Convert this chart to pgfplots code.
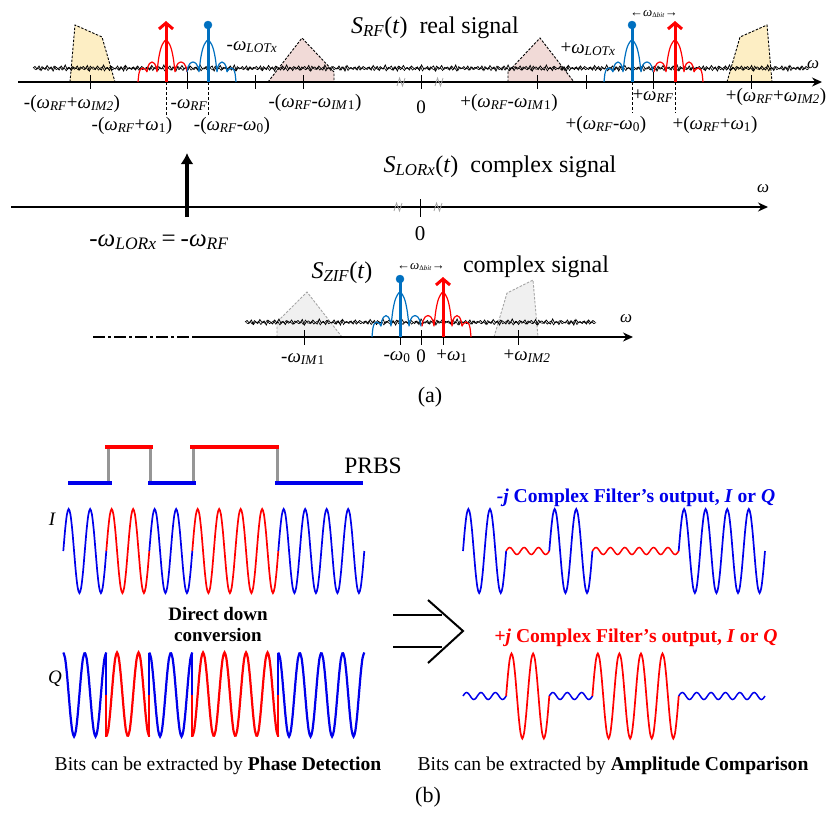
\documentclass[border=0pt]{standalone}
\usepackage{fontspec}
\setmainfont{Liberation Serif}
\usepackage{pgfplots}
\pgfplotsset{compat=1.18}
\usepackage{pgfplotstable}
\usetikzlibrary{arrows.meta}
\definecolor{rred}{RGB}{255,0,0}
\definecolor{sblue}{RGB}{0,112,192}
\definecolor{wblue}{RGB}{0,0,235}
\definecolor{yel}{RGB}{253,238,196}
\definecolor{pinkf}{RGB}{241,218,215}
\definecolor{grayf}{RGB}{240,240,240}
\definecolor{grayd}{RGB}{165,165,165}
\definecolor{prbsg}{RGB}{150,150,150}
\newcommand{\fs}[1]{\fontsize{#1}{#1}\selectfont}
\newcommand{\w}{\textit{ω}}
\newcommand{\sub}[1]{\textsubscript{\textit{#1}}}
\newcommand{\nsub}[1]{\textsubscript{#1}}

% one period of a sinusoid (fraction of period, sin, cos)
\pgfplotstableread{
t s c
0 0 1
0.083333 0.5 0.866025
0.166667 0.866025 0.5
0.25 1 0
0.333333 0.866025 -0.5
0.416667 0.5 -0.866025
0.5 0 -1
0.583333 -0.5 -0.866025
0.666667 -0.866025 -0.5
0.75 -1 0
0.833333 -0.866025 0.5
0.916667 -0.5 0.866025
1 0 1
}\sinT

% sinc-like lobes relative to the carrier (dx, height above axis)
\pgfplotstableread{
dx h
-28 0
-27.1 8.15
-25.75 12.3
-23.5 14
-21.25 13
-19.9 11.75
-19 10
nan nan
-19 10
-18 15.5
-16.5 18.5
-14 20
-11.5 18.5
-10 15.5
-9 10
nan nan
-9 10
-7.2 24.4
-4.5 35.6
0 42
4.5 35.6
7.2 24.4
9 10
nan nan
9 10
10.2 15.5
12 18.5
15 20
18 18.5
19.8 15.5
21 10
}\sincT

% noise block
\pgfplotstableread{
x y
0 0
2 1.5
4 -1
6 2
8 -2.5
10 0.5
12 -1.5
14 2.5
16 -0.5
18 1
20 -3
22 1.5
24 0
26 -2
28 2
30 -1
32 3
34 -1.5
36 0.5
38 -2.5
40 1
42 -0.5
44 2
46 -2
48 0
50 1.5
52 -1
54 2.5
56 -3
58 0.5
60 1
62 -1.5
64 2
66 -0.5
68 -2
70 3
72 -1
74 0.5
76 -2.5
78 1.5
80 0
82 -1
84 2
86 -2
88 1
90 -3
92 2.5
94 -0.5
96 0.5
98 -1.5
100 1
102 -2
104 2
106 -1
108 1.5
110 0
}\noiseT

% #1 style, #2 period list, #3 x0, #4 period, #5 centre, #6 amplitude, #7 column
\newcommand{\wave}[7]{%
  \pgfplotsinvokeforeach{#2}{\addplot[line width=1.7pt, smooth, #1] table[x expr=#3+#4*(##1+\thisrow{t}), y expr=#5-(#6)*\thisrow{#7}] \sinT;}}

\tikzset{brd/.style={dash pattern=on 2.5pt off 1.5pt, line width=0.9pt}}

\begin{document}
\begin{tikzpicture}
\begin{axis}[scale only axis, width=827pt, height=812pt,
  xmin=0, xmax=827, ymin=0, ymax=812, y dir=reverse,
  hide axis, clip=false, unbounded coords=jump]

% ---------- (a) top: S_RF ----------
\addplot[fill=yel, draw=black, brd] coordinates {(70,82)(75,25)(102,37)(115,82)} -- cycle;
\addplot[fill=yel, draw=black, brd] coordinates {(727,82)(740,37)(767,25)(772,82)} -- cycle;
\addplot[fill=pinkf, draw=black, brd] coordinates {(268,82)(302,38)(334,72)(334,82)} -- cycle;
\addplot[fill=pinkf, draw=black, brd] coordinates {(508,82)(508,72)(540,38)(574,82)} -- cycle;
% ZIF images
\addplot[fill=grayf, draw=grayd, brd] coordinates {(277,337)(277,322)(307,292)(342,337)} -- cycle;
\addplot[fill=grayf, draw=grayd, brd] coordinates {(494,337)(507,293)(533,280)(538,337)} -- cycle;

% noise (two interleaved passes)
\pgfplotsinvokeforeach{0,2,4,6}{\addplot[black, line width=0.75pt] table[x expr=33+1.00649*(\thisrow{x}+110*#1), y expr=68-\thisrow{y}] \noiseT;}
\pgfplotsinvokeforeach{1,3,5}{\addplot[black, line width=0.75pt] table[x expr=33+1.00649*(\thisrow{x}+110*#1), y expr=68+\thisrow{y}] \noiseT;}
\pgfplotsinvokeforeach{0,2,4,6}{\addplot[black, line width=0.6pt] table[x expr=34+1.00649*(\thisrow{x}+110*#1), y expr=68.5+0.8*\thisrow{y}] \noiseT;}
\pgfplotsinvokeforeach{1,3,5}{\addplot[black, line width=0.6pt] table[x expr=34+1.00649*(\thisrow{x}+110*#1), y expr=68.5-0.8*\thisrow{y}] \noiseT;}
\pgfplotsinvokeforeach{0,2}{\addplot[black, line width=0.75pt] table[x expr=245+1.0606*(\thisrow{x}+110*#1), y expr=322-\thisrow{y}] \noiseT;}
\pgfplotsinvokeforeach{1}{\addplot[black, line width=0.75pt] table[x expr=245+1.0606*(\thisrow{x}+110*#1), y expr=322+\thisrow{y}] \noiseT;}
\pgfplotsinvokeforeach{0,2}{\addplot[black, line width=0.6pt] table[x expr=246+1.0606*(\thisrow{x}+110*#1), y expr=322.5+0.8*\thisrow{y}] \noiseT;}
\pgfplotsinvokeforeach{1}{\addplot[black, line width=0.6pt] table[x expr=246+1.0606*(\thisrow{x}+110*#1), y expr=322.5-0.8*\thisrow{y}] \noiseT;}

% axis lines
\addplot[black, line width=1.3pt, -{Stealth[length=10pt,width=9pt]}] coordinates {(18,82)(822,82)};
\addplot[black, line width=1.3pt, -{Stealth[length=10pt,width=9pt]}] coordinates {(11,207)(768,207)};
\addplot[black, line width=1.3pt, dash pattern=on 12pt off 3pt on 3pt off 3pt] coordinates {(93,337)(193,337)};
\addplot[black, line width=1.3pt, -{Stealth[length=10pt,width=9pt]}] coordinates {(193,337)(633,337)};

% break marks
\addplot[grayd, line width=0.8pt] coordinates {(397,86)(399.5,78)(402.5,86)(405,78) (nan,nan) (435,86)(437.5,78)(440.5,86)(443,78)
  (nan,nan) (394,211)(396.5,203)(399.5,211)(402,203) (nan,nan) (434,211)(436.5,203)(439.5,211)(442,203)};

% ticks
\addplot[black, line width=1pt] coordinates {(90,75)(90,89) (nan,nan) (187,72)(187,89) (nan,nan) (255,75)(255,89) (nan,nan) (303,75)(303,89)
  (nan,nan) (421,75)(421,89) (nan,nan) (537,75)(537,89) (nan,nan) (586,75)(586,89) (nan,nan) (653,72)(653,89) (nan,nan) (751,75)(751,89)
  (nan,nan) (187,207)(187,217) (nan,nan) (420,199)(420,217)
  (nan,nan) (304,330)(304,345) (nan,nan) (400,330)(400,345) (nan,nan) (421,330)(421,345) (nan,nan) (443,330)(443,345) (nan,nan) (518,330)(518,345)};
\addplot[black, line width=0.9pt, dash pattern=on 3pt off 2pt] coordinates {(166,82)(166,115) (nan,nan) (208,82)(208,115) (nan,nan) (632,82)(632,113) (nan,nan) (675,82)(675,113)};

% sinc lobes
\addplot[rred, line width=1.2pt, smooth] table[x expr=166+\thisrow{dx}, y expr=82-\thisrow{h}] \sincT;
\addplot[sblue, line width=1.2pt, smooth] table[x expr=208-\thisrow{dx}, y expr=82-\thisrow{h}] \sincT;
\addplot[sblue, line width=1.2pt, smooth] table[x expr=632+\thisrow{dx}, y expr=82-\thisrow{h}] \sincT;
\addplot[rred, line width=1.2pt, smooth] table[x expr=675-\thisrow{dx}, y expr=82-\thisrow{h}] \sincT;
\addplot[sblue, line width=1.2pt, smooth] table[x expr=400+\thisrow{dx}, y expr=337-1.07*\thisrow{h}] \sincT;
\addplot[rred, line width=1.2pt, smooth] table[x expr=443-\thisrow{dx}, y expr=337-1.07*\thisrow{h}] \sincT;

% carriers
\addplot[rred, line width=3pt, -{Straight Barb[length=6pt,width=14pt]}] coordinates {(166,82)(166,21)};
\addplot[rred, line width=3pt, -{Straight Barb[length=6pt,width=14pt]}] coordinates {(675,82)(675,21)};
\addplot[rred, line width=3pt, -{Straight Barb[length=6pt,width=14pt]}] coordinates {(443,337)(443,277)};
\addplot[sblue, line width=3pt] coordinates {(208,82)(208,25) (nan,nan) (632,82)(632,25) (nan,nan) (400,337)(400,279)};
\addplot[sblue, only marks, mark=*, mark size=4pt, mark options={fill=sblue, draw=sblue}] coordinates {(208,25)(632,25)(400,279)};
\addplot[black, line width=3.5pt, -{Latex[length=11pt,width=13pt]}] coordinates {(187,217)(187,153)};

% labels (a)
\begin{scope}[every node/.style={font=\fs{19}, anchor=base, inner sep=0pt}]
\node at (axis cs:72,108) {-(\w\sub{RF}+\w\sub{IM2})};
\node at (axis cs:132,130) {-(\w\sub{RF}+\w\nsub{1})};
\node at (axis cs:189,108) {-\w\sub{RF}};
\node at (axis cs:232,130) {-(\w\sub{RF}-\w\nsub{0})};
\node at (axis cs:252,50) {-\w\sub{LOTx}};
\node at (axis cs:315,107) {-(\w\sub{RF}-\w\sub{IM}\nsub{1})};
\node at (axis cs:421,113) {0};
\node at (axis cs:509,107) {+(\w\sub{RF}-\w\sub{IM}\nsub{1})};
\node at (axis cs:588,53) {+\w\sub{LOTx}};
\node at (axis cs:606,129) {+(\w\sub{RF}-\w\nsub{0})};
\node at (axis cs:653,100) {+\w\sub{RF}};
\node at (axis cs:715,129) {+(\w\sub{RF}+\w\nsub{1})};
\node at (axis cs:776,101) {+(\w\sub{RF}+\w\sub{IM2})};
\node[font=\fs{24}] at (axis cs:435,33) {\textit{S}\sub{RF}(\textit{t})\ \ real signal};
\node[font=\fs{24}] at (axis cs:500,172) {\textit{S}\sub{LORx}(\textit{t})\ \ complex signal};
\node[font=\fs{25}] at (axis cs:159,246) {-\w\sub{LORx}\hspace{5pt}=\hspace{5pt}-\w\sub{RF}};
\node[font=\fs{21}] at (axis cs:420,240) {0};
\node[font=\fs{24}] at (axis cs:342,278) {\textit{S}\sub{ZIF}(\textit{t})};
\node[font=\fs{24}] at (axis cs:536,272) {complex signal};
\node at (axis cs:303,362) {-\w\sub{IM}\nsub{1}};
\node at (axis cs:397,360) {-\w\nsub{0}};
\node at (axis cs:421,362) {0};
\node at (axis cs:452,360) {+\w\nsub{1}};
\node at (axis cs:527,360) {+\w\sub{IM2}};
\node[font=\fs{17}] at (axis cs:813,68) {\w};
\node[font=\fs{17}] at (axis cs:763,192) {\w};
\node[font=\fs{17}] at (axis cs:626,322) {\w};
\node[font=\fs{13}] at (axis cs:654,16) {←\w\textsubscript{\fs{7}Δ\textit{bit}}→};
\node[font=\fs{13}] at (axis cs:421,269) {←\w\textsubscript{\fs{7}Δ\textit{bit}}→};
\node[font=\fs{22}] at (axis cs:430,402) {(a)};
\end{scope}

% ---------- (b) ----------
\addplot[prbsg, line width=3pt] coordinates {(108,447)(108,483) (nan,nan) (150,447)(150,483) (nan,nan) (193,447)(193,483) (nan,nan) (277,447)(277,483)};
\addplot[wblue, line width=4pt] coordinates {(68,483)(112,483) (nan,nan) (148,483)(196,483) (nan,nan) (275,483)(363,483)};
\addplot[rred, line width=4pt] coordinates {(105,447)(153,447) (nan,nan) (190,447)(279,447)};

% I
\wave{wblue}{0,1}{63.3}{21.5}{551}{42}{s}
\wave{rred}{2,3}{63.3}{21.5}{551}{42}{s}
\wave{wblue}{4,5}{63.3}{21.5}{551}{42}{s}
\wave{rred}{6,...,9}{63.3}{21.5}{551}{42}{s}
\wave{wblue}{10,...,13}{63.3}{21.5}{551}{42}{s}
% Q
\wave{wblue,line width=2.2pt}{0,1}{63.3}{21.5}{694.5}{42}{c}
\wave{rred,line width=2.2pt}{2,3}{63.3}{21.5}{694.5}{-42}{c}
\wave{wblue,line width=2.2pt}{4,5}{63.3}{21.5}{694.5}{42}{c}
\wave{rred,line width=2.2pt}{6,...,9}{63.3}{21.5}{694.5}{-42}{c}
\wave{wblue,line width=2.2pt}{10,...,13}{63.3}{21.5}{694.5}{42}{c}
\addplot[wblue, line width=2.2pt] coordinates {(106.3,652.5)(106.3,694.5) (nan,nan) (149.3,694.5)(149.3,652.5) (nan,nan) (192.3,652.5)(192.3,694.5) (nan,nan) (278.3,694.5)(278.3,652.5)};
\addplot[rred, line width=2.2pt] coordinates {(106.3,694.5)(106.3,736.5) (nan,nan) (149.3,736.5)(149.3,694.5) (nan,nan) (192.3,694.5)(192.3,736.5) (nan,nan) (278.3,736.5)(278.3,694.5)};

% -j output
\wave{wblue}{0,1}{463}{21.57}{551}{42}{s}
\wave{wblue}{4,5}{463}{21.57}{551}{42}{s}
\wave{wblue}{10,...,13}{463}{21.57}{551}{42}{s}
\wave{rred,line width=1.5pt}{0,1,2}{506.14}{14.38}{551}{3.5}{s}
\wave{rred,line width=1.5pt}{0,...,5}{592.42}{14.38}{551}{3.5}{s}
% +j output
\wave{wblue,line width=1.5pt}{0,1,2}{463}{14.38}{696}{3.5}{s}
\wave{wblue,line width=1.5pt}{0,1,2}{549.28}{14.38}{696}{3.5}{s}
\wave{wblue,line width=1.5pt}{0,...,5}{678.7}{14.38}{696}{3.5}{s}
\wave{rred}{2,3}{463}{21.57}{696}{42.5}{s}
\wave{rred}{6,...,9}{463}{21.57}{696}{42.5}{s}

% big arrow
\addplot[black, line width=2pt] coordinates {(393,615)(442,615) (nan,nan) (393,647)(442,647)};
\addplot[black, line width=2pt] coordinates {(428,600)(463,631)(428,663)};

\begin{scope}[every node/.style={font=\fs{19.6}, anchor=base, inner sep=0pt}]
\node[font=\fs{23.5}] at (axis cs:373,473) {PRBS};
\node[font=\fs{19}\itshape] at (axis cs:52,525) {I};
\node[font=\fs{19}\itshape] at (axis cs:55,683) {Q};
\node[font=\fs{19}\bfseries] at (axis cs:218,620) {Direct down};
\node[font=\fs{19}\bfseries] at (axis cs:218,641) {conversion};
\node at (axis cs:218,770) {Bits can be extracted by \textbf{Phase Detection}};
\node at (axis cs:613,770) {Bits can be extracted by \textbf{Amplitude Comparison}};
\node[font=\fs{19.6}\bfseries, text=wblue] at (axis cs:636,502) {\textit{-j} Complex Filter’s output, \textit{I} or \textit{Q}};
\node[font=\fs{19.6}\bfseries, text=rred] at (axis cs:636,642) {\textit{+j} Complex Filter’s output, \textit{I} or \textit{Q}};
\node[font=\fs{22}] at (axis cs:428,802) {(b)};
\end{scope}

\end{axis}
\pgfresetboundingbox
\path (current axis.south west) rectangle (current axis.north east);
\end{tikzpicture}
\end{document}
